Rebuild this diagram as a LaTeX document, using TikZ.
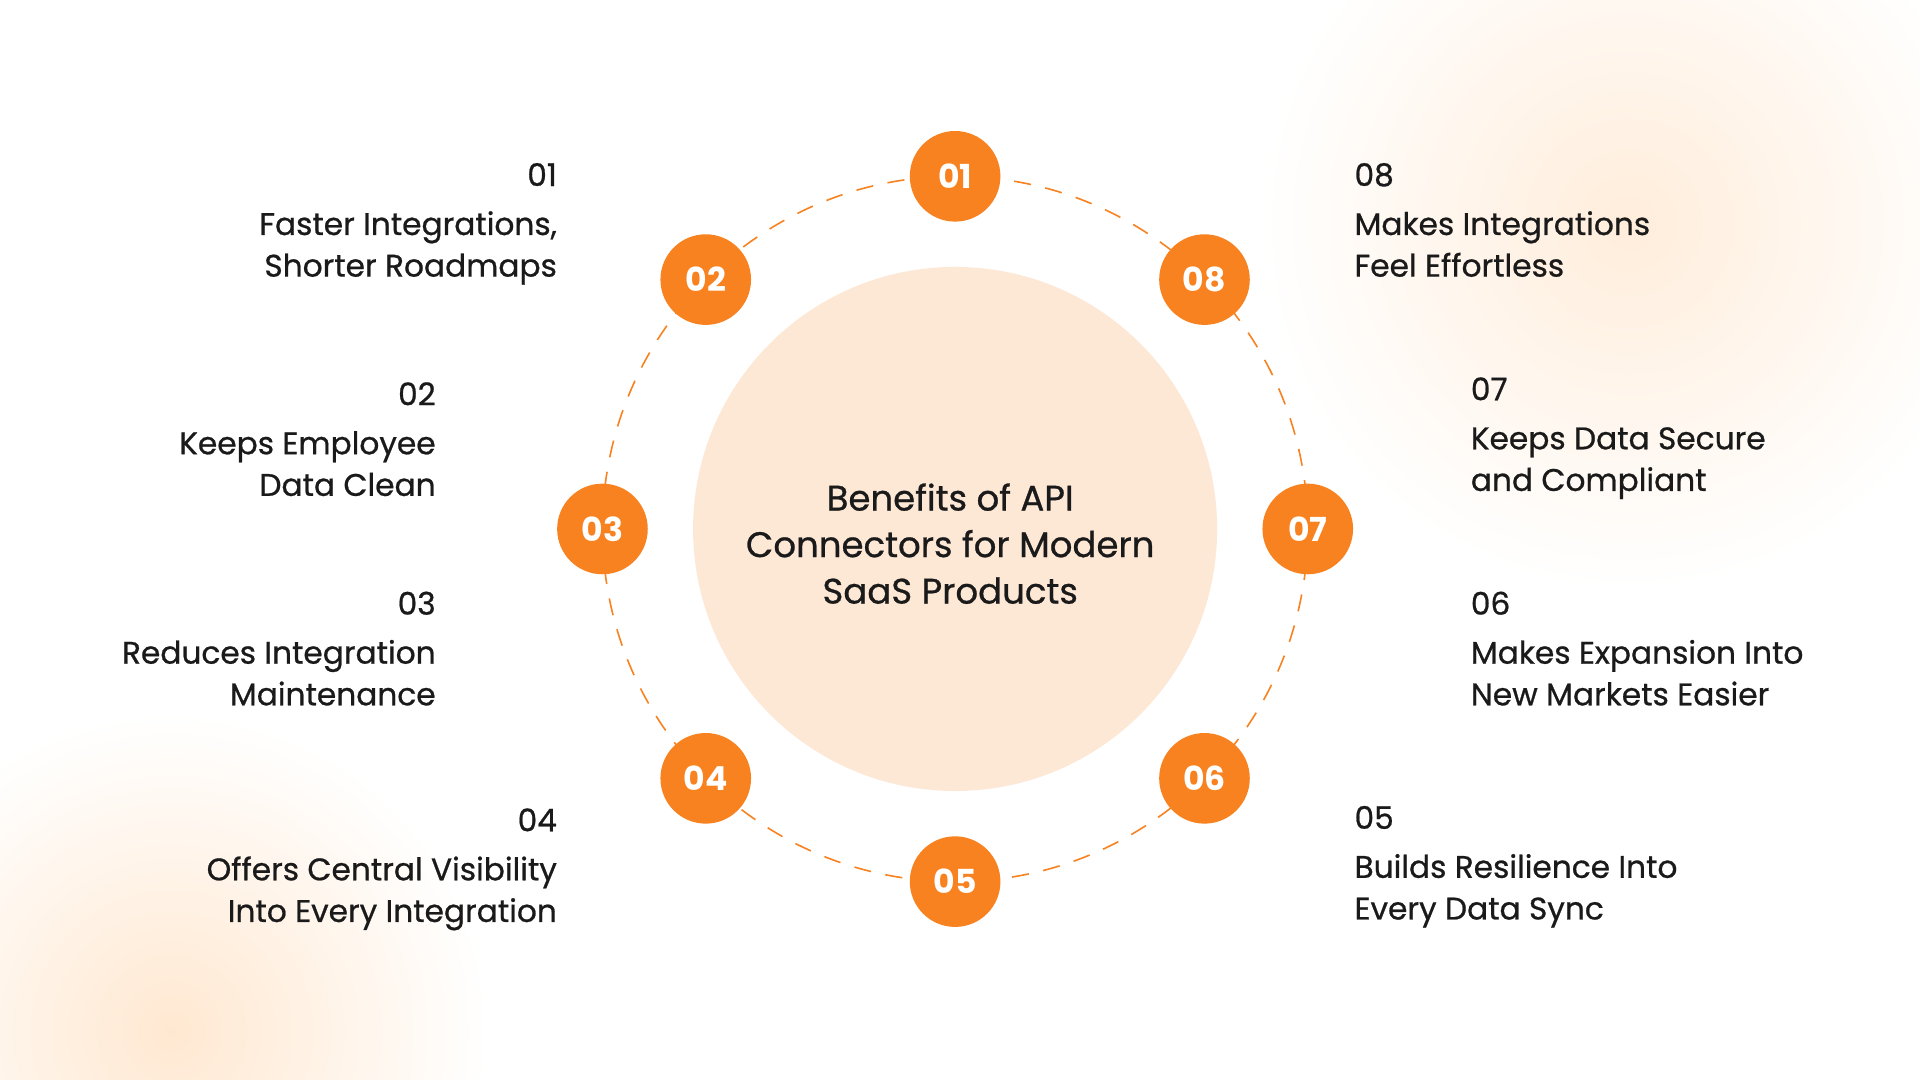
\documentclass[tikz,border=0pt]{standalone}
\usepackage{fontspec}
\usetikzlibrary{calc}
\setmainfont{Poppins}
\newfontfamily\medfont[FakeBold=0.7]{Poppins}
\definecolor{org}{HTML}{F7821F}
\definecolor{txt}{HTML}{1A1A1A}
\definecolor{core}{HTML}{FDE8D6}
\begin{document}
\begin{tikzpicture}[x=1pt,y=1pt,
 badge/.style={circle,fill=org,minimum size=74pt,inner sep=0,text=white,font=\fontsize{27}{30}\selectfont\bfseries},
 lbl/.style={text=txt,font=\medfont\fontsize{25.5}{34}\selectfont,inner sep=0},
 lblL/.style={lbl,align=right,anchor=north east},
 lblR/.style={lbl,align=left,anchor=north west}]
\useasboundingbox (0,0) rectangle (1568,882);
\fill[white] (0,0) rectangle (1568,882);
\begin{scope}
\clip (0,0) rectangle (1568,882);
\shade[inner color=orange!14,outer color=white] (1330,700) circle (300);
\shade[inner color=orange!18,outer color=white] (140,40) circle (260);
\end{scope}
\node[circle,fill=core,minimum size=428pt,inner sep=0] (c) at (780,450) {};
\node[text=txt,align=center,font=\medfont\fontsize{29}{38}\selectfont] (ct) at (776,438) {Benefits of API\\Connectors for Modern\\SaaS Products};
\draw[org,dash pattern=on 14pt off 12pt,line width=1.3pt] (780,450) circle (288);
\foreach \n/\a in {01/90,02/135,03/180,04/225,05/270,06/315,07/0,08/45}
  \node[badge] (b\n) at ($(780,450)+(\a:288)$) {\n};
\node[lblL] (t1) at (455,749) {01\\[6pt]Faster Integrations,\\Shorter Roadmaps};
\node[lblL] (t2) at (356,570) {02\\[6pt]Keeps Employee\\Data Clean};
\node[lblL] (t3) at (356,399) {03\\[6pt]Reduces Integration\\Maintenance};
\node[lblL] (t4) at (455,222) {04\\[6pt]Offers Central Visibility\\Into Every Integration};
\node[lblR] (t8) at (1106,749) {08\\[6pt]Makes Integrations\\Feel Effortless};
\node[lblR] (t7) at (1201,574) {07\\[6pt]Keeps Data Secure\\and Compliant};
\node[lblR] (t6) at (1201,399) {06\\[6pt]Makes Expansion Into\\New Markets Easier};
\node[lblR] (t5) at (1106,224) {05\\[6pt]Builds Resilience Into\\Every Data Sync};
\end{tikzpicture}
\end{document}
